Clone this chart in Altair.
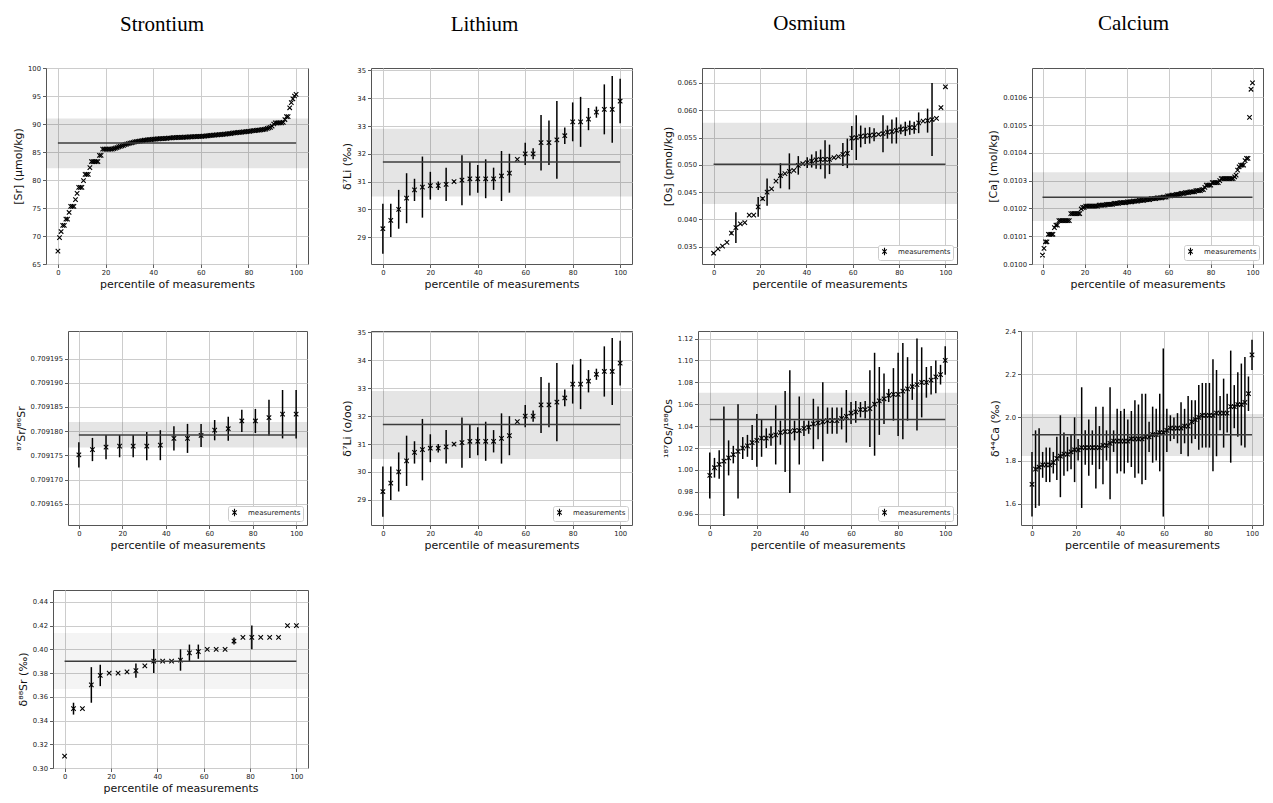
import altair as alt
import pandas as pd

# ---------------- data ----------------
column_titles = ["Strontium", "Lithium", "Osmium", "Calcium"]
pct_ticks = [0, 20, 40, 60, 80, 100]

# [Sr] (umol/kg), sorted measurements
sr_conc = [
    67.3, 69.7, 70.8, 71.9, 71.9, 73.0, 73.0, 74.2, 75.3, 75.3,
    75.3, 76.5, 77.6, 78.7, 78.7, 78.7, 79.9, 81.0, 81.0, 81.0,
    82.2, 83.3, 83.3, 83.3, 83.3, 83.3, 84.4, 84.4, 85.5, 85.5,
    85.5, 85.5, 85.5, 85.5, 85.5,
    85.6, 85.7, 85.8, 85.9, 86.0, 86.1, 86.2, 86.3, 86.4, 86.5,
    86.6, 86.65, 86.7, 86.8, 86.85, 86.9, 86.95, 87.0, 87.05, 87.1,
    87.1, 87.15, 87.2, 87.2, 87.25, 87.3, 87.3, 87.35, 87.35, 87.4,
    87.4, 87.4, 87.45, 87.45, 87.5, 87.5, 87.5, 87.55, 87.55, 87.55,
    87.6, 87.6, 87.6, 87.6, 87.65, 87.65, 87.65, 87.7, 87.7, 87.7,
    87.75, 87.75, 87.75, 87.8, 87.8, 87.8, 87.85, 87.85, 87.9, 87.9,
    87.95, 87.95, 88.0, 88.0, 88.05, 88.05, 88.1, 88.1, 88.15, 88.2,
    88.2, 88.25, 88.3, 88.3, 88.35, 88.4, 88.4, 88.45, 88.5, 88.5,
    88.55, 88.6, 88.6, 88.65, 88.7, 88.7, 88.75, 88.8, 88.8, 88.85,
    88.9, 88.9, 88.95, 89.0, 89.05, 89.1, 89.2, 89.3, 89.4, 89.6,
    90.0, 90.2, 90.2, 90.2, 90.2, 90.2, 90.3,
    90.8, 91.3, 91.3, 92.9, 93.8, 94.5, 95.0, 95.3,
]

# delta7Li (permil)
li_delta = [29.3, 29.6, 30.0, 30.4, 30.7, 30.8, 30.85, 30.85, 30.9, 31.0,
            31.05, 31.1, 31.1, 31.1, 31.1, 31.2, 31.3, 31.8, 32.0, 32.0,
            32.4, 32.4, 32.5, 32.65, 33.15, 33.15, 33.25, 33.5, 33.6, 33.6,
            33.9]
li_err = [0.9, 0.6, 0.7, 0.9, 0.4, 1.1, 0.5, 0.15, 0.6, 0.05,
          0.9, 0.6, 0.5, 0.7, 0.4, 0.9, 0.7, 0.0, 0.4, 0.2,
          1.0, 0.8, 1.4, 0.3, 0.7, 0.9, 0.4, 0.2, 0.9, 1.2,
          0.8]

# [Os] (pmol/kg)
os_conc = [0.0338, 0.0346, 0.0351, 0.0358, 0.0375, 0.0385, 0.0392, 0.0394, 0.0408, 0.0408,
           0.0423, 0.0438, 0.0450, 0.0456, 0.0470, 0.0480, 0.0484, 0.0488, 0.0490, 0.0499,
           0.0502, 0.0504, 0.0507, 0.0509, 0.0510, 0.0510, 0.0510, 0.0513, 0.0515, 0.0519,
           0.0521, 0.0549, 0.0550, 0.0552, 0.0553, 0.0554, 0.0555, 0.0556, 0.0557, 0.0560,
           0.0561, 0.0563, 0.0565, 0.0566, 0.0568, 0.0568, 0.0577, 0.0580, 0.0581, 0.0583,
           0.0585, 0.0605, 0.0643]
os_conc_err = [0.0002, 0.0, 0.0, 0.0, 0.0003, 0.0028, 0.0, 0.0, 0.0, 0.0,
               0.0018, 0.0003, 0.0025, 0.0, 0.0, 0.0023, 0.0, 0.0033, 0.0, 0.0017,
               0.0, 0.0010, 0.0012, 0.0016, 0.0018, 0.0035, 0.0027, 0.0, 0.0, 0.0021,
               0.0027, 0.0022, 0.0041, 0.0020, 0.0015, 0.0015, 0.0012, 0.0, 0.0034, 0.0012,
               0.0022, 0.0024, 0.0009, 0.0013, 0.0013, 0.0011, 0.0019, 0.0, 0.0022, 0.0067,
               0.0, 0.0, 0.0]

# [Ca] (mol/kg)
ca_conc = [
    0.010032, 0.010056, 0.010080, 0.010080, 0.010107, 0.010107, 0.010107, 0.010107, 0.010131, 0.010140,
    0.010140, 0.010156, 0.010156, 0.010156, 0.010156, 0.010156, 0.010156, 0.010156, 0.010156, 0.010181,
    0.010181, 0.010181, 0.010181, 0.010181, 0.010181, 0.010181, 0.010198, 0.010204, 0.010204, 0.010208,
    0.010208, 0.010208, 0.010208, 0.010208, 0.010208, 0.010208, 0.010208, 0.010208, 0.010212, 0.010212,
    0.010212, 0.010212, 0.010212, 0.010215, 0.010215, 0.010215, 0.010215, 0.010215, 0.010218, 0.010218,
    0.010218, 0.010218, 0.010221, 0.010221, 0.010221, 0.010221, 0.010221, 0.010224, 0.010224, 0.010224,
    0.010224, 0.010226, 0.010226, 0.010226, 0.010226, 0.010229, 0.010229, 0.010229, 0.010229, 0.010232,
    0.010232, 0.010232, 0.010232, 0.010235, 0.010235, 0.010235, 0.010235, 0.010238, 0.010238, 0.010238,
    0.010238, 0.010241, 0.010241, 0.010241, 0.010245, 0.010245, 0.010245, 0.010248, 0.010248, 0.010248,
    0.010251, 0.010251, 0.010251, 0.010254, 0.010254, 0.010254, 0.010257, 0.010257, 0.010257, 0.010260,
    0.010260, 0.010260, 0.010260, 0.010264, 0.010264, 0.010264, 0.010264, 0.010268, 0.010268, 0.010276,
    0.010284, 0.010284, 0.010284, 0.010284, 0.010293, 0.010293, 0.010293, 0.010293, 0.010293, 0.010300,
    0.010307, 0.010307, 0.010307, 0.010307, 0.010307, 0.010307, 0.010307, 0.010307, 0.010307, 0.010314,
    0.010320, 0.010338, 0.010350, 0.010356, 0.010356, 0.010356, 0.010372, 0.010380, 0.010380, 0.010528,
    0.010629, 0.010652,
]

# 87Sr/86Sr
sr_ratio = [0.7091751, 0.7091762, 0.7091767, 0.7091769, 0.7091769, 0.7091769, 0.7091771, 0.7091785,
            0.7091785, 0.7091791, 0.7091802, 0.7091805, 0.7091821, 0.7091821, 0.7091828, 0.7091835,
            0.7091835]
sr_ratio_err = [2.6e-6, 2.4e-6, 2.5e-6, 2.3e-6, 2.3e-6, 2.9e-6, 3.1e-6, 2.5e-6,
                3.0e-6, 2.4e-6, 2.1e-6, 2.5e-6, 2.3e-6, 2.5e-6, 3.7e-6, 5.0e-6,
                5.0e-6]

# 187Os/188Os
os_ratio = [0.995, 1.002, 1.005, 1.008, 1.011, 1.014, 1.017, 1.020, 1.022, 1.025,
            1.027, 1.029, 1.029, 1.031, 1.032, 1.034, 1.035, 1.035, 1.036, 1.036,
            1.038, 1.039, 1.042, 1.043, 1.044, 1.045, 1.045, 1.045, 1.047, 1.049,
            1.052, 1.053, 1.055, 1.055, 1.056, 1.060, 1.063, 1.065, 1.068, 1.069,
            1.069, 1.072, 1.074, 1.076, 1.078, 1.080, 1.080, 1.082, 1.085, 1.087,
            1.100]
os_ratio_err = [0.021, 0.009, 0.013, 0.050, 0.016, 0.008, 0.043, 0.010, 0.010, 0.016,
                0.024, 0.017, 0.009, 0.009, 0.027, 0.011, 0.037, 0.056, 0.009, 0.031,
                0.007, 0.006, 0.023, 0.015, 0.036, 0.012, 0.012, 0.012, 0.010, 0.024,
                0.010, 0.010, 0.007, 0.008, 0.035, 0.047, 0.031, 0.023, 0.006, 0.024,
                0.038, 0.044, 0.029, 0.012, 0.042, 0.032, 0.014, 0.013, 0.015, 0.009,
                0.013]

# delta44Ca (permil)
ca_delta = [1.69, 1.76, 1.77, 1.78, 1.78, 1.78, 1.79, 1.81, 1.82, 1.83,
            1.83, 1.84, 1.85, 1.85, 1.86, 1.86, 1.86, 1.86, 1.86, 1.86,
            1.87, 1.87, 1.88, 1.89, 1.89, 1.89, 1.89, 1.89, 1.90, 1.90,
            1.90, 1.90, 1.91, 1.91, 1.92, 1.92, 1.93, 1.93, 1.94, 1.95,
            1.95, 1.95, 1.95, 1.96, 1.96, 1.98, 1.99, 2.00, 2.01, 2.01,
            2.01, 2.01, 2.02, 2.02, 2.02, 2.02, 2.05, 2.05, 2.06, 2.06,
            2.07, 2.11, 2.29]
ca_delta_err = [0.15, 0.18, 0.18, 0.06, 0.08, 0.08, 0.05, 0.10, 0.19, 0.10,
                0.08, 0.08, 0.15, 0.05, 0.28, 0.08, 0.13, 0.08, 0.19, 0.10,
                0.18, 0.07, 0.26, 0.05, 0.15, 0.14, 0.15, 0.10, 0.13, 0.18,
                0.16, 0.21, 0.20, 0.07, 0.13, 0.12, 0.18, 0.39, 0.10, 0.06,
                0.05, 0.07, 0.12, 0.08, 0.14, 0.10, 0.09, 0.15, 0.15, 0.15,
                0.15, 0.26, 0.20, 0.08, 0.16, 0.09, 0.26, 0.10, 0.15, 0.19,
                0.21, 0.08, 0.07]

# delta88Sr (permil)
sr_delta = [0.31, 0.35, 0.35, 0.37, 0.378, 0.38, 0.38, 0.381, 0.382, 0.386,
            0.39, 0.39, 0.39, 0.391, 0.397, 0.398, 0.40, 0.40, 0.40, 0.407,
            0.41, 0.41, 0.41, 0.41, 0.41, 0.42, 0.42]
sr_delta_err = [0.0, 0.005, 0.0, 0.015, 0.009, 0.0, 0.0, 0.0, 0.006, 0.0,
                0.01, 0.0, 0.0, 0.009, 0.007, 0.006, 0.0, 0.0, 0.0, 0.003,
                0.0, 0.01, 0.0, 0.0, 0.0, 0.0, 0.0]

# reference value and band (mean, low, high)
sr_conc_ref = (86.6, 82.1, 91.0)
li_ref = (31.7, 30.46, 32.9)
os_conc_ref = (0.0501, 0.0428, 0.0577)
ca_conc_ref = (0.010240, 0.010155, 0.010330)
sr_ratio_ref = (0.7091792, 0.7091766, 0.7091819)
os_ratio_ref = (1.046, 1.0219, 1.0706)
ca_delta_ref = (1.92, 1.821, 2.016)
sr_delta_ref = (0.39, 0.3665, 0.4137)

# ---------------- styling ----------------
FONT = "DejaVu Sans"
X_PATH = "M-1,-1L1,1M1,-1L-1,1"
LEG_PATH = "M-0.6,-0.6L0.6,0.6M0.6,-0.6L-0.6,0.6M0,-1L0,1"


def panel(values, errors, ref, ylabel, ydomain, yticks, yfmt, w, h,
          legend=False, band_opacity=0.1, title=None, title_dx=0, title_offset=12):
    n = len(values)
    errs = errors if errors is not None else [0.0] * n
    df = pd.DataFrame({
        "pct": [100.0 * i / (n - 1) for i in range(n)],
        "val": values,
        "lo": [v - e for v, e in zip(values, errs)],
        "hi": [v + e for v, e in zip(values, errs)],
        "err": errs,
        "series": ["measurements"] * n,
    })
    mean, blo, bhi = ref
    xscale = alt.Scale(domain=[-5, 105], nice=False, zero=False)
    yscale = alt.Scale(domain=ydomain, nice=False, zero=False)
    xaxis = alt.Axis(values=pct_ticks, title="percentile of measurements", format="d",
                     titlePadding=2)
    yaxis = alt.Axis(values=yticks, title=ylabel, format=yfmt, titlePadding=4)

    if legend:
        leg = alt.Legend(orient="bottom-right", title=None, symbolType=LEG_PATH, symbolSize=55,
                         symbolStrokeWidth=1.1, labelFont=FONT, labelFontSize=7, labelColor="#222222",
                         fillColor="white", strokeColor="#cccccc", cornerRadius=2, padding=2,
                         offset=4, labelOffset=9)
    else:
        leg = None
    pts = alt.Chart(df).mark_point(shape=X_PATH, filled=False, size=20, strokeWidth=1.1, opacity=1).encode(
        x=alt.X("pct:Q", scale=xscale, axis=xaxis),
        y=alt.Y("val:Q", scale=yscale, axis=yaxis),
        color=alt.Color("series:N", scale=alt.Scale(domain=["measurements"], range=["black"]), legend=leg),
    )
    band = alt.Chart(pd.DataFrame({"lo": [blo], "hi": [bhi]})).mark_rect(
        color="black", opacity=band_opacity
    ).encode(
        x=alt.value(0), x2=alt.value(w),
        y=alt.Y("lo:Q", scale=yscale, axis=yaxis), y2="hi:Q",
    )
    mean_line = alt.Chart(pd.DataFrame({"x0": [0], "x1": [100], "m": [mean]})).mark_rule(
        color="#3c3c3c", strokeWidth=1.5
    ).encode(
        x=alt.X("x0:Q", scale=xscale, axis=xaxis), x2="x1:Q",
        y=alt.Y("m:Q", scale=yscale, axis=yaxis),
    )
    layers = [pts, band]
    if errors is not None:
        bars = alt.Chart(df[df["err"] > 0]).mark_rule(color="black", strokeWidth=1.5).encode(
            x=alt.X("pct:Q", scale=xscale, axis=xaxis),
            y=alt.Y("lo:Q", scale=yscale, axis=yaxis), y2="hi:Q",
        )
        layers.append(bars)
    layers.append(mean_line)
    ch = alt.layer(*layers).properties(width=w, height=h)
    if title:
        ch = ch.properties(title=alt.TitleParams(
            text=title, font="Liberation Serif", fontSize=21, fontWeight="normal", color="black",
            anchor="middle", frame="group", offset=title_offset, baseline="alphabetic", dx=title_dx))
    return ch


def spacer(w, h):
    return alt.Chart(pd.DataFrame({"s": [0]})).mark_point(opacity=0, size=0).encode(
        x=alt.X("s:Q", axis=None), y=alt.Y("s:Q", axis=None)
    ).properties(width=w, height=h, view=alt.ViewBackground(strokeWidth=0))


def row(*items):
    return alt.hconcat(*items, spacing=0, bounds="flush").resolve_scale(color="independent")


H1, H2, H3 = 196, 194, 178

p1 = panel(sr_conc, None, sr_conc_ref, "[Sr] (µmol/kg)", [65, 100], [65, 70, 75, 80, 85, 90, 95, 100],
           "d", 262, H1, title=column_titles[0], title_dx=-15, title_offset=13.4)
p2 = panel(li_delta, li_err, li_ref, "δ⁷Li (‰)", [28.03, 35.09], [29, 30, 31, 32, 33, 34, 35],
           "d", 261, H1, title=column_titles[1], title_dx=-17, title_offset=15.9)
p3 = panel(os_conc, os_conc_err, os_conc_ref, "[Os] (pmol/kg)", [0.03183, 0.06774],
           [0.035, 0.040, 0.045, 0.050, 0.055, 0.060, 0.065], ".3f", 255, H1, legend=True,
           title=column_titles[2], title_dx=-20, title_offset=16.8)
p4 = panel(ca_conc, None, ca_conc_ref, "[Ca] (mol/kg)", [0.0100, 0.0107055],
           [0.0100, 0.0101, 0.0102, 0.0103, 0.0104, 0.0105, 0.0106], ".4f", 231, H1, legend=True,
           title=column_titles[3], title_dx=-14, title_offset=16.8)

p5 = panel(sr_ratio, sr_ratio_err, sr_ratio_ref, "⁸⁷Sr/⁸⁶Sr", [0.7091606, 0.7092007],
           [0.709165, 0.709170, 0.709175, 0.709180, 0.709185, 0.709190, 0.709195], ".6f", 239, H2,
           legend=True)
p6 = panel(li_delta, li_err, li_ref, "δ⁷Li (o/oo)", [28.1, 35.05], [29, 30, 31, 32, 33, 34, 35],
           "d", 261, H2, legend=True)
p7 = panel(os_ratio, os_ratio_err, os_ratio_ref, "¹⁸⁷Os/¹⁸⁸Os", [0.9497, 1.1269],
           [0.96, 0.98, 1.00, 1.02, 1.04, 1.06, 1.08, 1.10, 1.12], ".2f", 259, H2, legend=True)
p8 = panel(ca_delta, ca_delta_err, ca_delta_ref, "δ⁴⁴Ca (‰)", [1.501, 2.401],
           [1.6, 1.8, 2.0, 2.2, 2.4], ".1f", 242, H2)

p9 = panel(sr_delta, sr_delta_err, sr_delta_ref, "δ⁸⁸Sr (‰)", [0.30, 0.45],
           [0.30, 0.32, 0.34, 0.36, 0.38, 0.40, 0.42, 0.44], ".2f", 255, H3, band_opacity=0.045)

row1 = row(spacer(38, 1), p1, spacer(63, 1), p2, spacer(70, 1), p3, spacer(75, 1), p4)
row2 = row(spacer(60, 1), p5, spacer(64, 1), p6, spacer(66, 1), p7, spacer(64, 1), p8)
row3 = row(spacer(45, 1), p9)

chart = alt.vconcat(
    spacer(1, 4), row1, spacer(1, 37), row2, spacer(1, 37.5), row3, spacing=0
).resolve_scale(
    color="independent"
).properties(padding=0).configure_view(
    stroke="#555555", strokeWidth=1
).configure_axis(
    grid=True, gridColor="#cccccc", gridWidth=1, domain=False,
    tickColor="#333333", tickSize=3.5, tickWidth=0.8,
    labelFont=FONT, labelFontSize=6.8, labelColor="#222222", labelPadding=2,
    titleFont=FONT, titleFontSize=11, titleFontWeight="normal", titleColor="#111111",
)

chart.save("out.html", embed_options={"renderer": "svg", "actions": False})
